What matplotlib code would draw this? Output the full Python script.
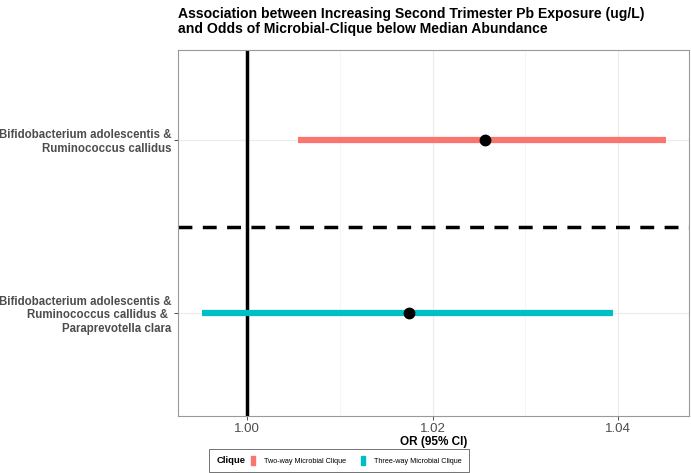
import matplotlib
matplotlib.use("Agg")
import matplotlib.pyplot as plt
from matplotlib.patches import Patch

categories = ["Bifidobacterium adolescentis &\nRuminococcus callidus & \nParaprevotella clara",
              "Bifidobacterium adolescentis &\nRuminococcus callidus"]
clique = ["Three-way Microbial Clique", "Two-way Microbial Clique"]
or_est = [1.0175, 1.0257]
ci_low = [0.9952, 1.0055]
ci_high = [1.0395, 1.0452]
colors = ["#00BFC4", "#F8766D"]
xticks = [1.00, 1.02, 1.04]

plt.rcParams['font.family'] = ['Liberation Sans', 'DejaVu Sans']
fig = plt.figure(figsize=(6.91, 4.73), dpi=100)
ax = fig.add_axes([178/691, 1-416/473, (689-178)/691, (416-50)/473])

ypos = [1, 2]
for i in range(2):
    ax.plot([ci_low[i], ci_high[i]], [ypos[i], ypos[i]], color=colors[i], lw=4.5,
            solid_capstyle='butt', zorder=3)
    ax.plot(or_est[i], ypos[i], 'o', color='black', ms=7.5, zorder=4)

ax.axvline(1.0, color='black', lw=2.5, zorder=2)
ax.axhline(1.5, color='black', lw=2.5, ls=(0, (4, 3)), zorder=2)

ax.set_xlim(0.99256, 1.04765)
ax.set_ylim(0.405, 2.52)
ax.set_xticks(xticks)
ax.set_xticklabels([f"{t:.2f}" for t in xticks], fontsize=9.5, color='#4D4D4D')
ax.set_xticks([1.01, 1.03], minor=True)
ax.set_yticks(ypos)
ax.set_yticklabels(categories, fontsize=8.3, fontweight='bold', color='#4D4D4D', linespacing=1.15)
ax.tick_params(axis='both', which='major', length=3, color='#333333', width=0.6, pad=2)
ax.tick_params(axis='x', which='minor', length=0)
ax.grid(True, which='major', color='#EBEBEB', lw=0.8, zorder=0)
ax.grid(True, which='minor', axis='x', color='#F2F2F2', lw=0.5, zorder=0)
ax.set_axisbelow(True)
for s in ax.spines.values():
    s.set_color('#999999')
    s.set_linewidth(0.8)
ax.set_xlabel("OR (95% CI)", fontsize=8.5, fontweight='bold', labelpad=1)

fig.text(178/691, 1-7/473, "Association between Increasing Second Trimester Pb Exposure (ug/L)\nand Odds of Microbial-Clique below Median Abundance",
         fontsize=10.1, fontweight='bold', va='top', ha='left', linespacing=1.1)

handles = [Patch(color=colors[1], label=clique[1]), Patch(color=colors[0], label=clique[0])]
leg = fig.legend(handles=handles, loc='upper left', bbox_to_anchor=(209/691, 1-449/473),
                 ncol=2, title="Clique", fontsize=5.2, title_fontproperties={'weight': 'bold', 'size': 6.8},
                 frameon=True, fancybox=False, edgecolor='#333333', handlelength=0.55, handleheight=1.5,
                 handletextpad=1.3, columnspacing=2.0, borderpad=1.0, borderaxespad=0)
from matplotlib.offsetbox import HPacker
box = leg._legend_box
box.__class__ = HPacker
box.sep = 4
box.align = "center"
leg.get_frame().set_linewidth(0.6)

fig.savefig("out.png", dpi=100)
